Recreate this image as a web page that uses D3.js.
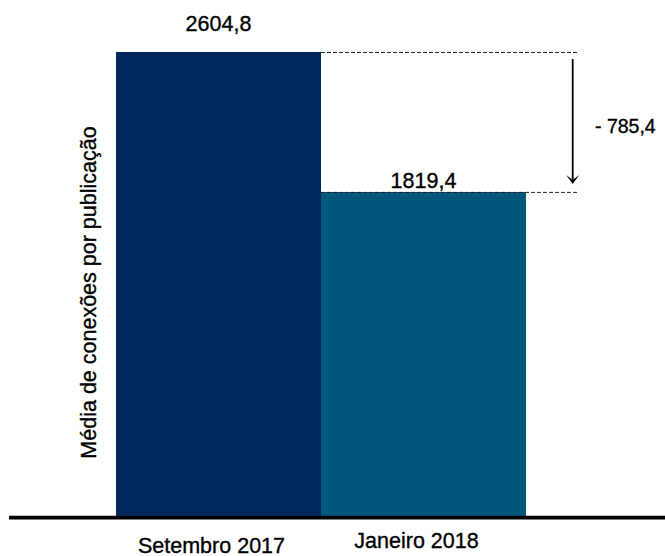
<!DOCTYPE html>
<html>
<head>
<meta charset="utf-8">
<script src="https://cdn.jsdelivr.net/npm/d3@7"></script>
<style>
  html, body { margin: 0; padding: 0; background: #fff; }
  text { font-family: "Liberation Sans", Arial, sans-serif; fill: #000; stroke: #000; stroke-width: 0.35px; }
</style>
</head>
<body>
<svg id="chart" width="665" height="556"></svg>
<script>
const categories = ["Setembro 2017", "Janeiro 2018"];
const values = [2604.8, 1819.4];
const valueLabels = ["2604,8", "1819,4"];
const diffLabel = "- 785,4";
const yTitle = "Média de conexões por publicação";
const colors = ["#00285a", "#00587a"];

const svg = d3.select("#chart");
const W = 665, H = 556;

const x = d3.scaleBand().domain(categories).range([116, 526]).paddingInner(0).paddingOuter(0);
const y = d3.scaleLinear().domain([0, d3.max(values)]).range([516, 52]);

// bars
svg.selectAll("rect.bar").data(values).join("rect")
  .attr("class", "bar")
  .attr("x", (d, i) => x(categories[i]))
  .attr("width", x.bandwidth())
  .attr("y", d => y(d))
  .attr("height", d => y(0) - y(d))
  .attr("fill", (d, i) => colors[i])
  .attr("shape-rendering", "crispEdges");

// baseline
svg.append("line")
  .attr("x1", 9).attr("x2", W)
  .attr("y1", y(0) + 1.6).attr("y2", y(0) + 1.6)
  .attr("stroke", "#000").attr("stroke-width", 3.6);

// category labels
const catDx = -7;
const catDy = [36.5, 32];
svg.selectAll("text.cat").data(categories).join("text")
  .attr("class", "cat")
  .attr("x", d => x(d) + x.bandwidth() / 2 + catDx)
  .attr("y", (d, i) => y(0) + catDy[i])
  .attr("text-anchor", "middle")
  .style("font-size", "21.5px")
  .text(d => d);

// value labels
const valDy = [-21, -3.5];
svg.selectAll("text.val").data(values).join("text")
  .attr("class", "val")
  .attr("x", (d, i) => x(categories[i]) + x.bandwidth() / 2)
  .attr("y", (d, i) => y(d) + valDy[i])
  .attr("text-anchor", "middle")
  .style("font-size", "21.5px")
  .text((d, i) => valueLabels[i]);

// dashed reference lines
const dashEnd = 578;
const x1 = x(categories[0]) + x.bandwidth();
svg.selectAll("line.ref").data(values).join("line")
  .attr("class", "ref")
  .attr("x1", x1).attr("x2", dashEnd)
  .attr("y1", d => y(d) + 0.5).attr("y2", d => y(d) + 0.5)
  .attr("stroke", "#222").attr("stroke-width", 1)
  .attr("stroke-dasharray", "4,2");

// arrow
const ax = 572.7;
const yTop = y(values[0]) + 7;
const yTip = y(values[1]) - 8;
svg.append("line")
  .attr("x1", ax).attr("x2", ax)
  .attr("y1", yTop).attr("y2", yTip - 4)
  .attr("stroke", "#000").attr("stroke-width", 1.8);
svg.append("path")
  .attr("d", `M${ax - 6.5},${yTip - 9} L${ax},${yTip} L${ax + 6.5},${yTip - 9} L${ax},${yTip - 4} Z`)
  .attr("fill", "#000");

// difference label
svg.append("text")
  .attr("x", 595)
  .attr("y", (y(values[0]) + y(values[1])) / 2 + 11)
  .attr("text-anchor", "start")
  .style("font-size", "19.5px")
  .text(diffLabel);

// y title
svg.append("text")
  .attr("transform", `translate(96, 292.5) rotate(-90)`)
  .attr("text-anchor", "middle")
  .style("font-size", "21.5px")
  .text(yTitle);
</script>
</body>
</html>
